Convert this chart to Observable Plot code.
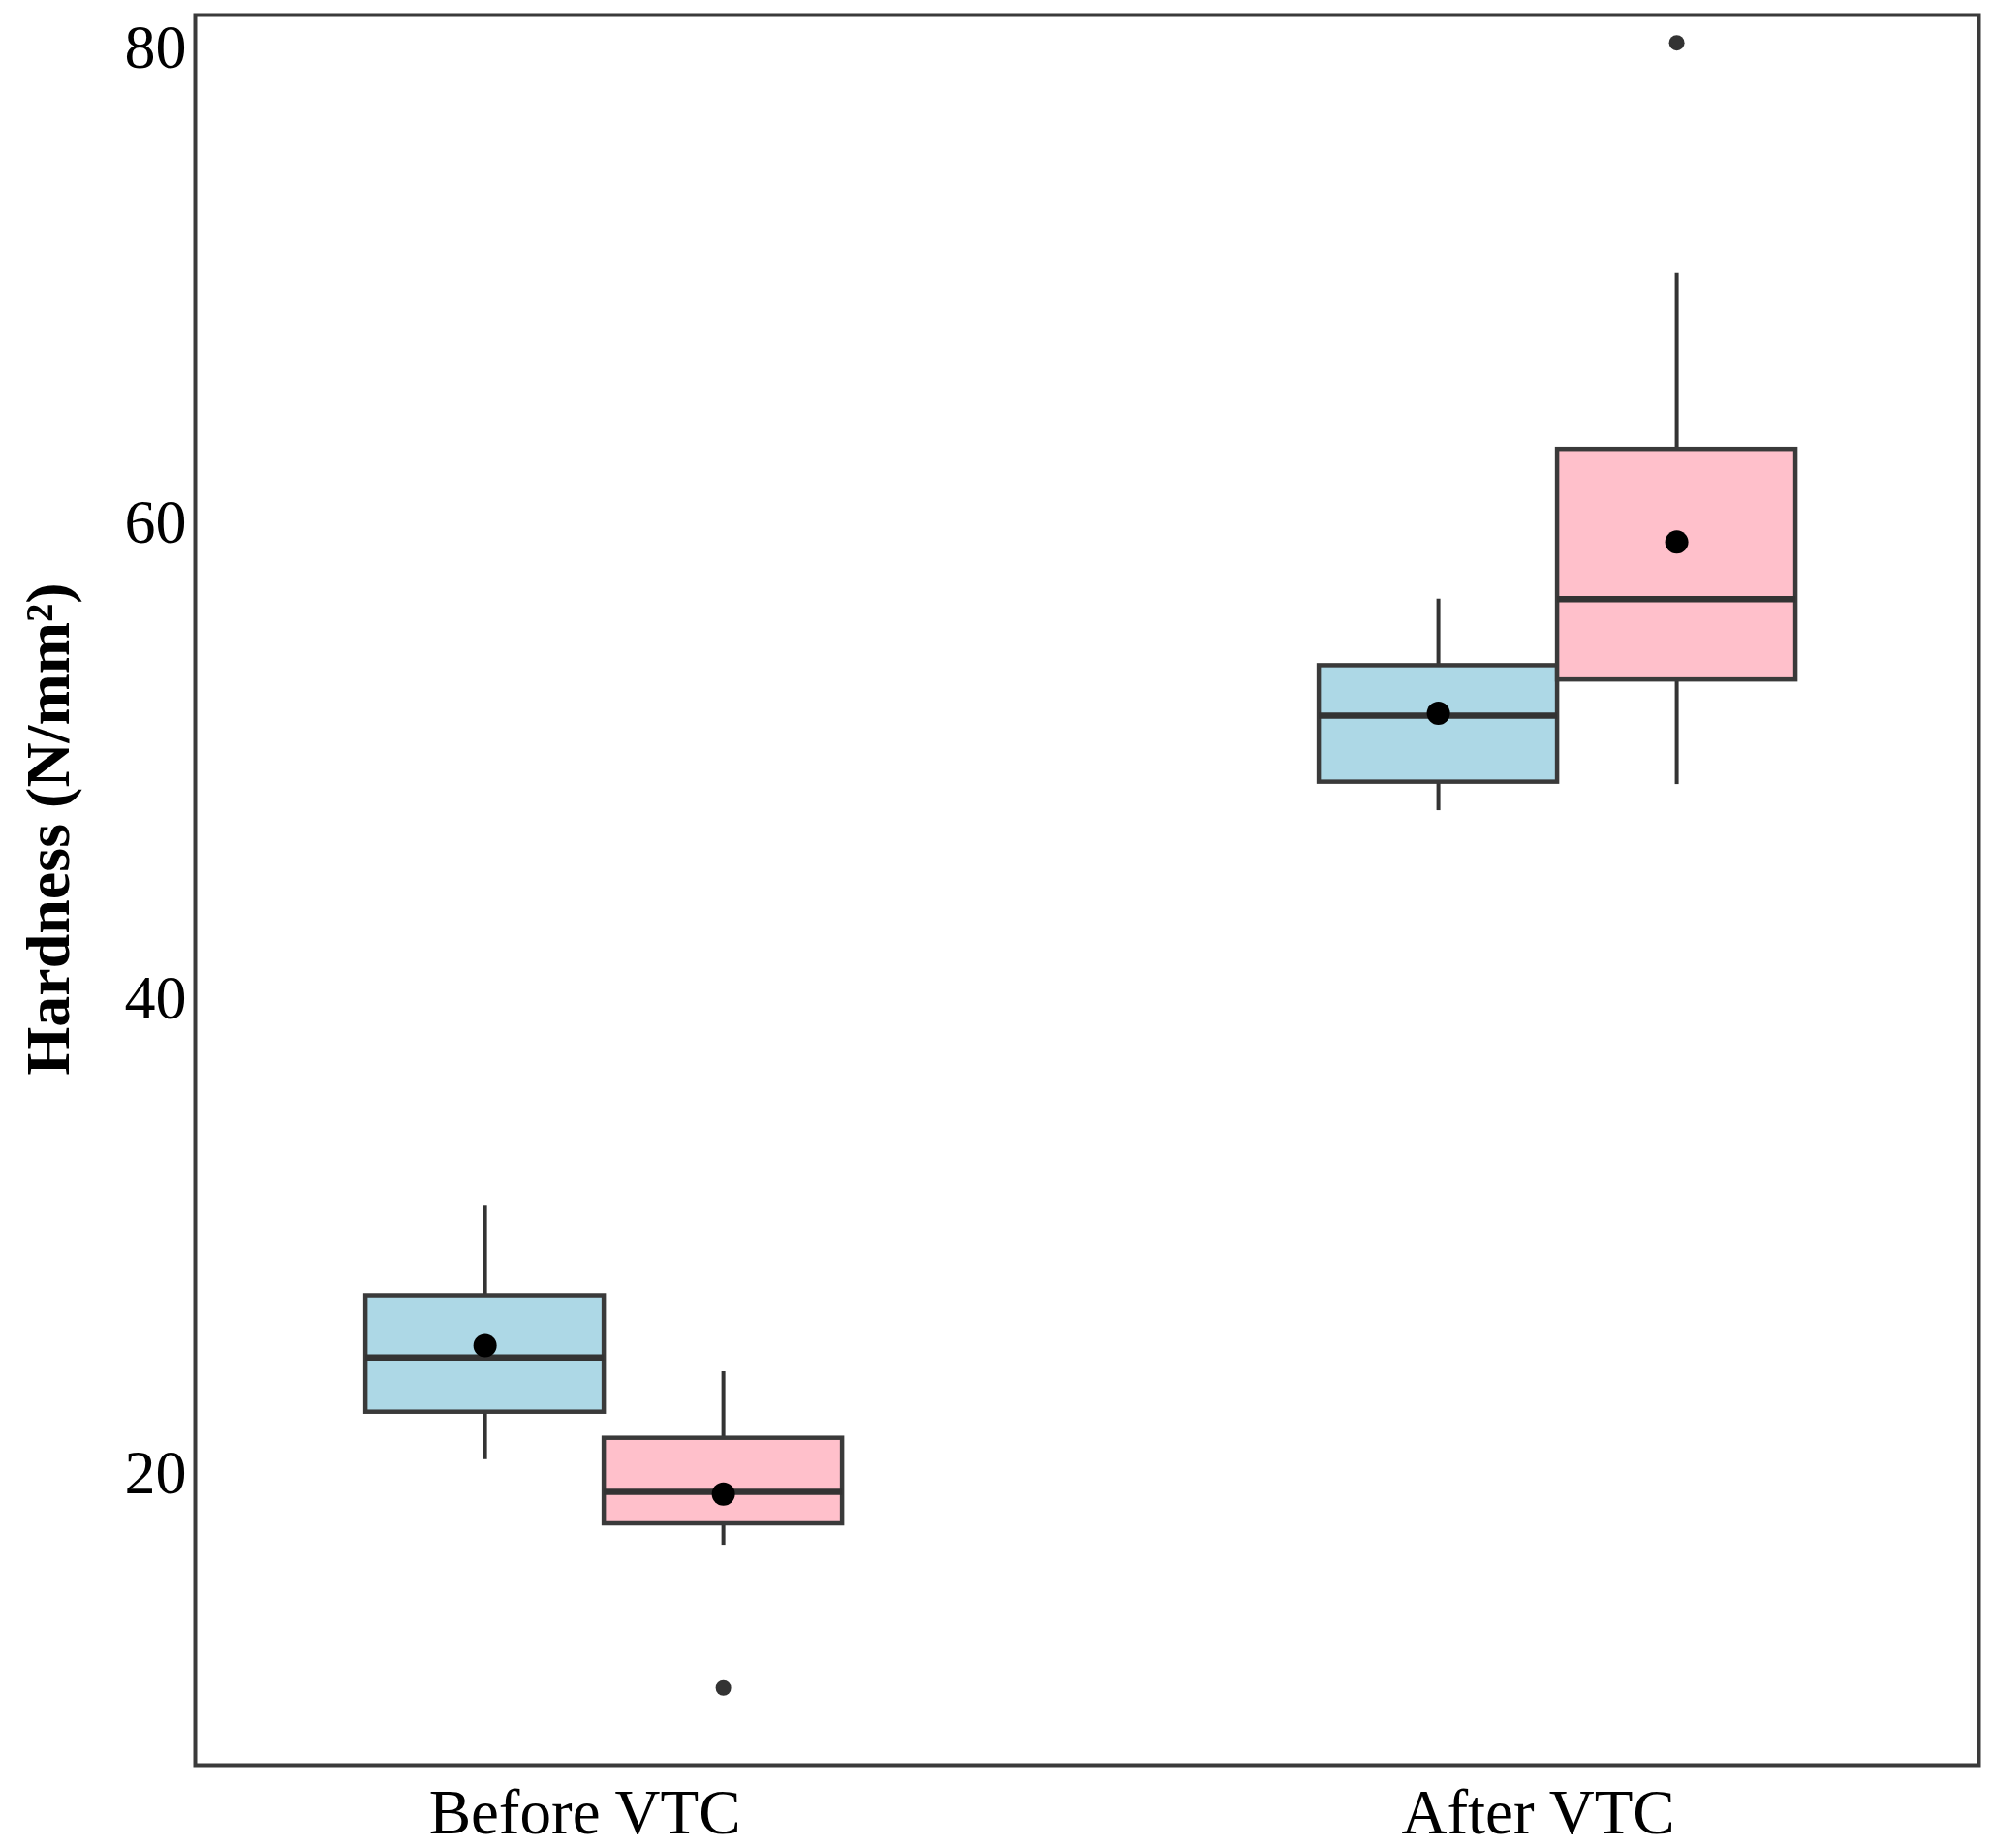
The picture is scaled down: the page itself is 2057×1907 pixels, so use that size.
<!DOCTYPE html>
<html>
<head>
<meta charset="utf-8">
<script src="https://cdn.jsdelivr.net/npm/d3@7"></script>
<script src="https://cdn.jsdelivr.net/npm/@observablehq/plot@0.6"></script>
<style>
  html, body { margin: 0; padding: 0; background: #fff; overflow: hidden; }
  #chart svg { display: block; }
</style>
</head>
<body>
<div id="chart"></div>
<script>
// ---- data ----
const groups = ["Before VTC", "After VTC"];
const series = ["Series 1", "Series 2"];
const seriesColors = ["#ADD8E6", "#FFC0CB"];
const boxGroup  = ["Before VTC", "Before VTC", "After VTC", "After VTC"];
const boxSeries = ["Series 1", "Series 2", "Series 1", "Series 2"];
const whiskerLow  = [20.6, 17.0, 47.9, 49.0];
const q1          = [22.6, 17.9, 49.1, 53.4];
const medians     = [24.9, 19.25, 51.9, 56.8];
const q3          = [27.5, 21.5, 54.0, 63.1];
const whiskerHigh = [31.3, 24.3, 56.8, 70.5];
const means       = [25.4, 19.15, 52.0, 59.2];
const outlierGroup  = ["Before VTC", "After VTC"];
const outlierSeries = ["Series 2", "Series 2"];
const outlierValue  = [11.0, 80.2];
const yTicks = [20, 40, 60, 80];
const yLabel = "Hardness (N/mm²)";

// ---- tables built from the arrays ----
const rows = boxGroup.map((g, i) => ({
  group: g, series: boxSeries[i],
  lo: whiskerLow[i], q1: q1[i], median: medians[i], q3: q3[i], hi: whiskerHigh[i], mean: means[i]
}));
const outliers = outlierGroup.map((g, i) => ({group: g, series: outlierSeries[i], value: outlierValue[i]}));

const W = 0.25;
const gi = d => groups.indexOf(d.group);
const left = d => gi(d) + (series.indexOf(d.series) === 0 ? -W : 0);
const right = d => left(d) + W;
const center = d => left(d) + W / 2;

const chart = Plot.plot({
  width: 2057,
  height: 1907,
  marginLeft: 201,
  marginRight: 15,
  marginTop: 15,
  marginBottom: 86,
  x: {domain: [-0.429, 1.442], axis: null},
  y: {domain: [7.75, 81.37], axis: null},
  color: {type: "ordinal", domain: series, range: seriesColors},
  style: {
    fontFamily: '"Liberation Serif", "Times New Roman", serif',
    fontSize: "64px",
    color: "#000",
    background: "#fff"
  },
  marks: [
    Plot.axisY({ticks: yTicks, tickSize: 0, tickPadding: 9, label: null, fontSize: 64}),
    Plot.axisX({ticks: [0, 1], tickFormat: i => groups[i], tickSize: 0, tickPadding: 24, label: null, fontSize: 65, dx: -20}),
    Plot.ruleX(rows, {x: center, y1: "lo", y2: "q1", stroke: "#333", strokeWidth: 4}),
    Plot.ruleX(rows, {x: center, y1: "q3", y2: "hi", stroke: "#333", strokeWidth: 4}),
    Plot.rect(rows, {x1: left, x2: right, y1: "q1", y2: "q3", fill: "series", stroke: "#3a3a3a", strokeWidth: 4.5}),
    Plot.ruleY(rows, {y: "median", x1: left, x2: right, stroke: "#333", strokeWidth: 6.5}),
    Plot.dot(rows, {x: center, y: "mean", r: 12, fill: "#000", stroke: null}),
    Plot.dot(outliers, {x: center, y: "value", r: 8, fill: "#333", stroke: null}),
    Plot.text([yLabel], {frameAnchor: "left", textAnchor: "middle", lineAnchor: "middle", rotate: -90, dx: -151, dy: -63, fontWeight: "bold", fontSize: 64, fill: "#000"}),
    Plot.frame({stroke: "#3a3a3a", strokeWidth: 4})
  ]
});
document.getElementById("chart").append(chart);
</script>
</body>
</html>
